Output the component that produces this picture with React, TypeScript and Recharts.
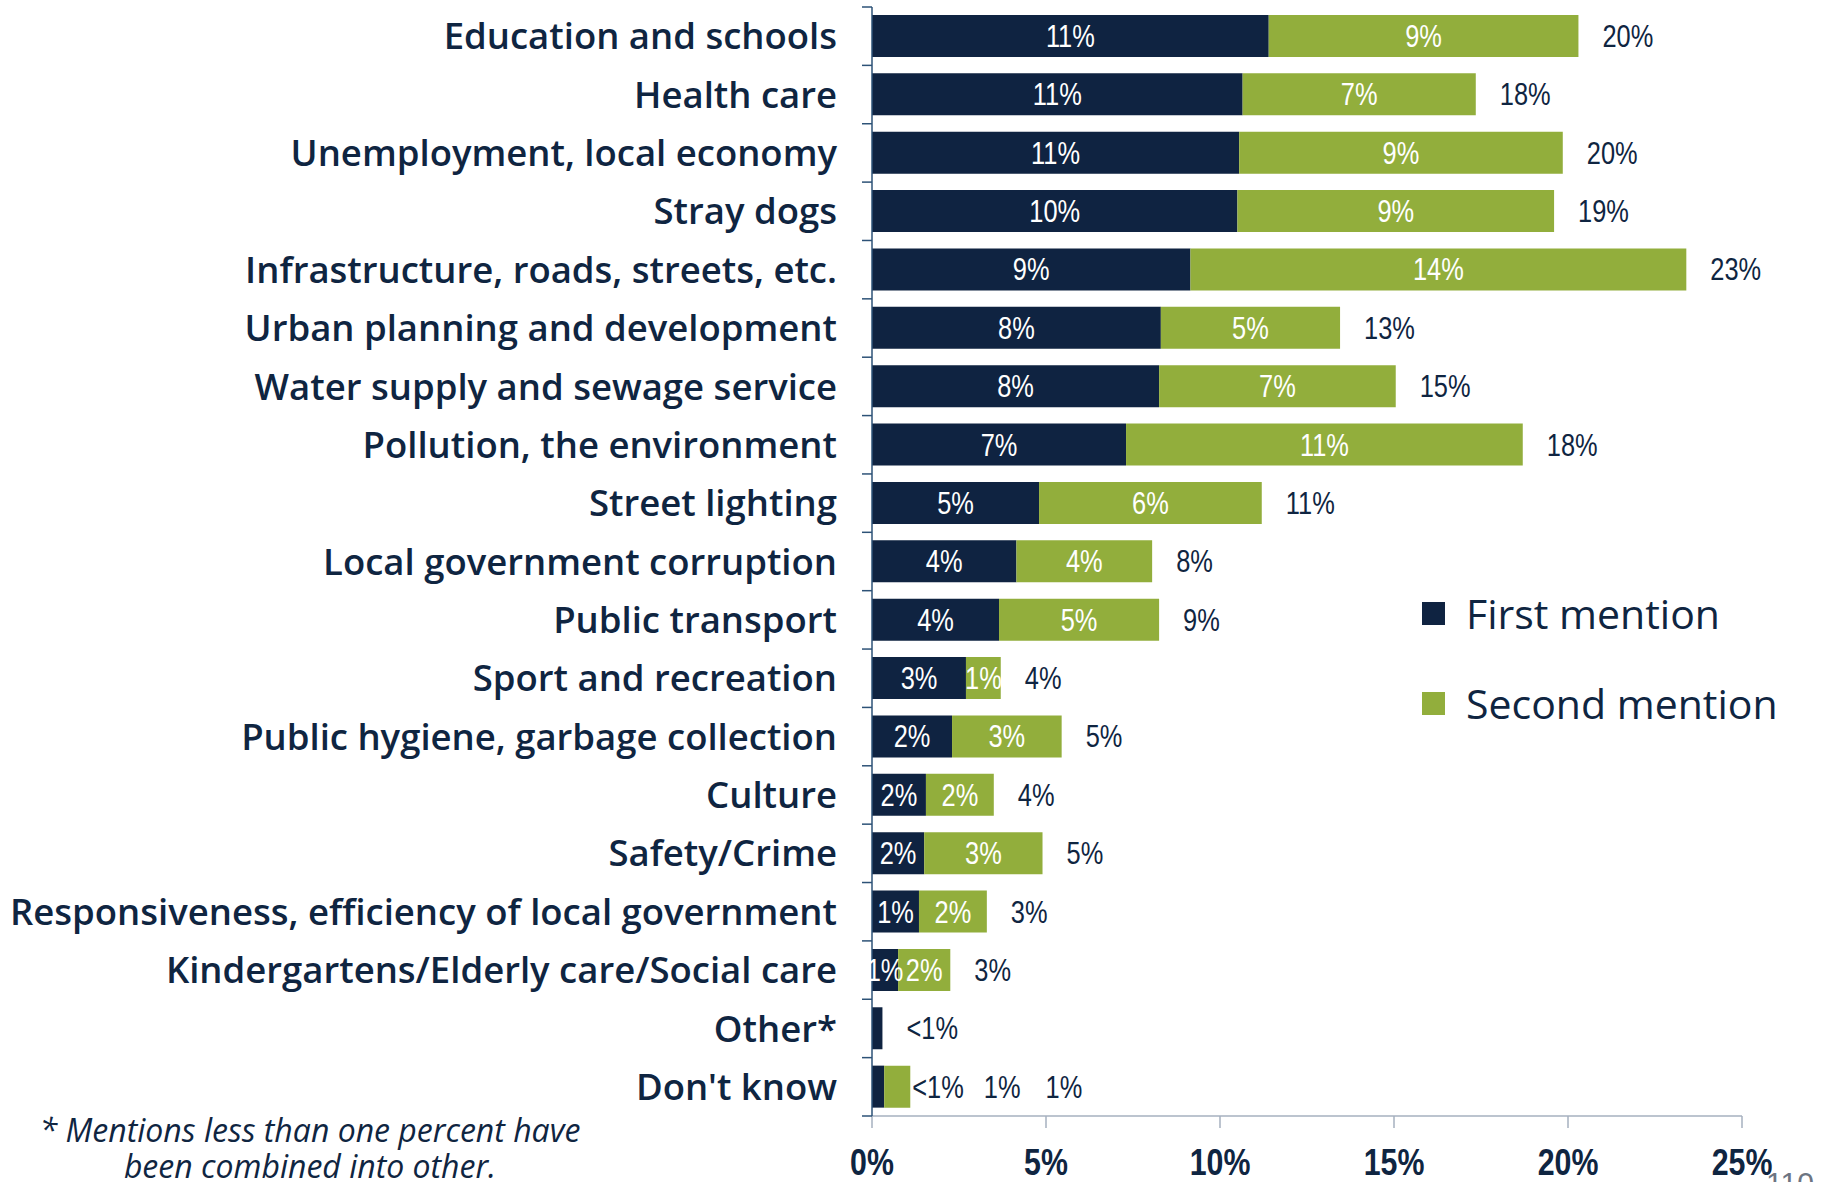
import React from 'react';
import { BarChart, Bar, XAxis, YAxis, LabelList } from 'recharts';

const categories = [
  'Education and schools',
  'Health care',
  'Unemployment, local economy',
  'Stray dogs',
  'Infrastructure, roads, streets, etc.',
  'Urban planning and development',
  'Water supply and sewage service',
  'Pollution, the environment',
  'Street lighting',
  'Local government corruption',
  'Public transport',
  'Sport and recreation',
  'Public hygiene, garbage collection',
  'Culture',
  'Safety/Crime',
  'Responsiveness, efficiency of local government',
  'Kindergartens/Elderly care/Social care',
  'Other*',
  "Don't know",
];

const firstMention = [11.4, 10.65, 10.55, 10.5, 9.15, 8.3, 8.25, 7.3, 4.8, 4.15, 3.65, 2.7, 2.3, 1.55, 1.5, 1.35, 0.75, 0.3, 0.35];
const secondMention = [8.9, 6.7, 9.3, 9.1, 14.25, 5.15, 6.8, 11.4, 6.4, 3.9, 4.6, 1.0, 3.15, 1.95, 3.4, 1.95, 1.5, 0, 0.75];

const firstLabels = ['11%', '11%', '11%', '10%', '9%', '8%', '8%', '7%', '5%', '4%', '4%', '3%', '2%', '2%', '2%', '1%', '1%', '', '<1%'];
const secondLabels = ['9%', '7%', '9%', '9%', '14%', '5%', '7%', '11%', '6%', '4%', '5%', '1%', '3%', '2%', '3%', '2%', '2%', '', '1%'];
const totalLabels = ['20%', '18%', '20%', '19%', '23%', '13%', '15%', '18%', '11%', '8%', '9%', '4%', '5%', '4%', '5%', '3%', '3%', '<1%', '1%'];
// rows whose segment labels sit outside the bar, next to the total
const labelsOutside = categories.map((c) => c === "Don't know");

const legendItems = ['First mention', 'Second mention'];
const xTicks = [0, 5, 10, 15, 20, 25];

const DARK = '#0f2341';
const GREEN = '#92ae3c';
const TEXT = '#0f2541';
const NARROW = '"Liberation Sans", Arial, sans-serif';
const SQUEEZE = 0.82; // fake an Arial Narrow look
const LABEL_FONT = '"Open Sans", "Noto Sans", sans-serif';

const WIDTH = 1827;
const HEIGHT = 1182;
const MARGIN = { top: 7, right: 85, left: 0, bottom: 0 };
const Y_AXIS_W = 872;
const X_AXIS_H = 66;
const BAND = (HEIGHT - MARGIN.top - MARGIN.bottom - X_AXIS_H) / categories.length;

const data = categories.map((name, i) => ({
  name,
  idx: i,
  first: firstMention[i],
  second: secondMention[i],
}));

const NarrowText = ({ x, y, anchor = 'start', fill = TEXT, size = 31, weight = 400, children }: any) => (
  <text
    transform={`translate(${x},${y}) scale(${SQUEEZE},1)`}
    textAnchor={anchor}
    fill={fill}
    fontFamily={NARROW}
    fontSize={size}
    fontWeight={weight}
  >
    {children}
  </text>
);

const CategoryTick = (props: any) => {
  const { x, y, payload, index } = props;
  const axisX = x + 35;
  const last = index === categories.length - 1;
  return (
    <g>
      <line x1={axisX - 10} x2={axisX} y1={y - BAND / 2} y2={y - BAND / 2} stroke="#2d5277" strokeWidth={1.5} />
      {last && (
        <line x1={axisX - 10} x2={axisX} y1={y + BAND / 2} y2={y + BAND / 2} stroke="#2d5277" strokeWidth={1.5} />
      )}
      <text
        x={x}
        y={y}
        dy="0.36em"
        textAnchor="end"
        fill={TEXT}
        fontFamily={LABEL_FONT}
        fontWeight={600}
        fontSize={36.5}
      >
        {payload.value}
      </text>
    </g>
  );
};

const PercentTick = (props: any) => {
  const { x, y, payload } = props;
  return (
    <NarrowText x={x} y={y + 26} anchor="middle" size={37} weight={700}>
      {`${payload.value}%`}
    </NarrowText>
  );
};

const insideLabel = (labels: string[]) => (props: any) => {
  const vb = props.viewBox || props;
  const { x, y, width, height } = vb;
  const i = Number(props.value);
  if (labelsOutside[i] || !labels[i]) return null;
  return (
    <NarrowText x={x + width / 2} y={y + height / 2 + 11} anchor="middle" fill="#ffffff">
      {labels[i]}
    </NarrowText>
  );
};

// drawn from the first segment, scaled out to the full stack length
const totalLabel = (props: any) => {
  const vb = props.viewBox || props;
  const { x, y, width, height } = vb;
  const i = Number(props.value);
  const end = x + (width * (firstMention[i] + secondMention[i])) / firstMention[i];
  const ty = y + height / 2 + 11;
  if (labelsOutside[i]) {
    return (
      <NarrowText x={end + 2} y={ty}>
        <tspan>{firstLabels[i]}</tspan>
        <tspan dx={20 / SQUEEZE}>{secondLabels[i]}</tspan>
        <tspan dx={25 / SQUEEZE}>{totalLabels[i]}</tspan>
      </NarrowText>
    );
  }
  return (
    <NarrowText x={end + 24} y={ty}>
      {totalLabels[i]}
    </NarrowText>
  );
};

export default function App() {
  return (
    <div style={{ position: 'absolute', left: 0, top: 0, width: WIDTH, height: HEIGHT, background: '#fff', overflow: 'hidden' }}>
      <BarChart width={WIDTH} height={HEIGHT} data={data} layout="vertical" margin={MARGIN} barSize={42}>
        <XAxis
          type="number"
          domain={[0, 25]}
          ticks={xTicks}
          height={X_AXIS_H}
          axisLine={{ stroke: '#a6b0bf', strokeWidth: 1.5 }}
          tickLine={{ stroke: '#a6b0bf', strokeWidth: 1.5 }}
          tickSize={12}
          tickMargin={21}
          tick={<PercentTick />}
          interval={0}
        />
        <YAxis
          type="category"
          dataKey="name"
          width={Y_AXIS_W}
          axisLine={{ stroke: '#2d5277', strokeWidth: 1.5 }}
          tickLine={false}
          tickSize={0}
          tickMargin={35}
          tick={<CategoryTick />}
          interval={0}
        />
        <Bar dataKey="first" stackId="a" fill={DARK} isAnimationActive={false}>
          <LabelList dataKey="idx" content={insideLabel(firstLabels)} />
          <LabelList dataKey="idx" content={totalLabel} />
        </Bar>
        <Bar dataKey="second" stackId="a" fill={GREEN} isAnimationActive={false}>
          <LabelList dataKey="idx" content={insideLabel(secondLabels)} />
        </Bar>
      </BarChart>
      <div style={{ position: 'absolute', left: 1422, top: 588, fontFamily: LABEL_FONT, color: TEXT, fontSize: 41 }}>
        {legendItems.map((label, i) => (
          <div key={label} style={{ display: 'flex', alignItems: 'center', height: 50, marginBottom: i === 0 ? 40 : 0 }}>
            <div style={{ width: 23, height: 23, background: i === 0 ? DARK : GREEN, marginRight: 21 }} />
            <span style={{ lineHeight: '50px' }}>{label}</span>
          </div>
        ))}
      </div>
      <div
        style={{
          position: 'absolute',
          left: 25,
          width: 570,
          top: 1112,
          textAlign: 'center',
          fontFamily: LABEL_FONT,
          fontStyle: 'italic',
          fontSize: 32,
          lineHeight: '36px',
          color: TEXT,
        }}
      >
        * Mentions less than one percent have
        <br />
        been combined into other.
      </div>
      <div
        style={{
          position: 'absolute',
          left: 1766,
          top: 1168,
          fontFamily: NARROW,
          fontSize: 30,
          lineHeight: '30px',
          color: '#6d7582',
        }}
      >
        110
      </div>
    </div>
  );
}
